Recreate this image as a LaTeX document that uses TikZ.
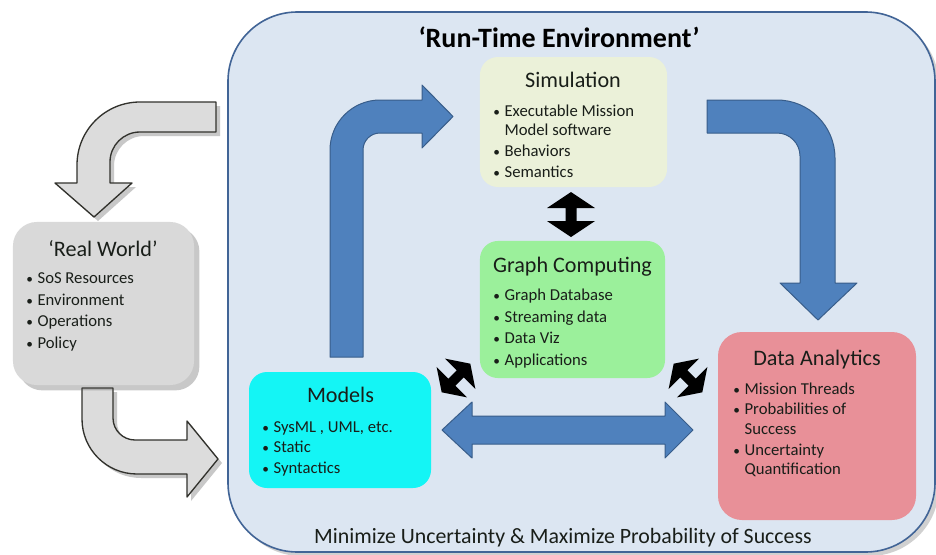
\documentclass[tikz,border=0pt]{standalone}
\usepackage{fontspec}
\setmainfont{Carlito}
\usetikzlibrary{shadows}
\definecolor{envfill}{RGB}{220,230,242}
\definecolor{envdraw}{RGB}{65,100,150}
\definecolor{simfill}{RGB}{235,241,217}
\definecolor{gcfill}{RGB}{155,240,155}
\definecolor{modfill}{RGB}{20,245,245}
\definecolor{dafill}{RGB}{232,144,152}
\definecolor{rwfill}{RGB}{217,217,217}
\definecolor{bluefill}{RGB}{79,129,189}
\definecolor{bluedraw}{RGB}{56,93,138}
\definecolor{grayfill}{RGB}{220,220,220}
\definecolor{graydraw}{RGB}{50,50,45}
\definecolor{txt}{RGB}{25,30,25}
\newcommand{\bu}{\makebox[8.5pt][l]{\scalebox{0.8}{\textbullet}}}
\newcommand{\bitem}[4]{\node[itm] (#1) at (#2,#3) {\bu #4};}
\newcommand{\citem}[4]{\node[itm] (#1) at (#2,#3) {\hspace*{8.5pt}#4};}
\begin{document}
\begin{tikzpicture}[x=0.75pt,y=-0.75pt,
  box/.style={rounded corners=13.5pt, inner sep=0pt, outer sep=0pt},
  ttl/.style={font=\fontsize{16.6}{20}\selectfont, text=txt, anchor=base, inner sep=0pt},
  itm/.style={font=\fontsize{12.5}{15}\selectfont, text=txt, anchor=base west, inner sep=0pt},
  bluearrow/.style={fill=bluefill, draw=bluedraw, line width=0.75pt, line join=round},
  grayarrow/.style={fill=grayfill, draw=graydraw, line width=1pt, line join=round,
     drop shadow={opacity=0.3, shadow xshift=3pt, shadow yshift=-3pt, fill=black!70}},
  blk/.style={fill=black}]
\useasboundingbox (0,0) rectangle (936,554);
\fill[white] (0,0) rectangle (936,554);
% run-time environment
\node[draw=envdraw, fill=envfill, line width=1.2pt, rounded corners=52pt, inner sep=0pt,
  minimum width=530.25pt, minimum height=405pt,
  drop shadow={opacity=0.3, shadow xshift=3pt, shadow yshift=-3pt, fill=black!60}] (env) at (581.5,282) {};
\node[font=\fontsize{21}{24}\selectfont\bfseries, text=black, anchor=base, inner sep=0pt] (envt) at (559,47) {`Run-Time Environment'};
\node[font=\fontsize{16.4}{19}\selectfont, text=txt, anchor=base, inner sep=0pt] (goal) at (563,543) {Minimize Uncertainty \& Maximize Probability of Success};
% gray arrows
\draw[grayarrow] (216,102) -- (140,102) .. controls (105.2,102) and (77,130.2) .. (77,165) -- (77,183) -- (55,183) -- (94,217) -- (132,183) -- (110,183) -- (110,162) .. controls (110,145.4) and (123.4,132) .. (140,132) -- (216,132) -- cycle;
\draw[grayarrow] (82,388) -- (82,419) .. controls (82,449.4) and (106.6,474) .. (137,474) -- (187,474) -- (187,497) -- (218,459) -- (187,421) -- (187,440) -- (135,440) .. controls (122.9,440) and (113,430.1) .. (113,418) -- (113,388) -- cycle;
% real world
\node[box, fill=rwfill, rounded corners=18pt, minimum width=135.8pt, minimum height=122.3pt,
  drop shadow={opacity=0.3, shadow xshift=4pt, shadow yshift=-4pt, fill=black!70}] (rw) at (103.5,303.5) {};
\node[ttl] (rwt) at (103,256) {`Real World'};
\bitem{rw1}{26}{283}{SoS Resources}
\bitem{rw2}{26}{305}{Environment}
\bitem{rw3}{26}{326.5}{Operations}
\bitem{rw4}{26}{348}{Policy}
% blue arrows
\draw[bluearrow] (330,357) -- (330,150) .. controls (330,122.4) and (352.4,100) .. (380,100) -- (422,100) -- (422,85) -- (453,116.5) -- (422,148) -- (422,133) -- (380,133) .. controls (370.6,133) and (363,140.6) .. (363,150) -- (363,357) -- cycle;
\draw[bluearrow] (707,100) -- (777,100) .. controls (809,100) and (835,126) .. (835,158) -- (835,283) -- (857,283) -- (818,320) -- (780,283) -- (800,283) -- (800,156) .. controls (800,143.3) and (789.7,133) .. (777,133) -- (707,133) -- cycle;
\draw[bluearrow] (442,430) -- (472,402) -- (472,416) -- (665,416) -- (665,402) -- (693,430) -- (665,458) -- (665,444) -- (472,444) -- (472,458) -- cycle;
% simulation
\node[box, fill=simfill, minimum width=140.3pt, minimum height=97.5pt] (sim) at (573.5,122) {};
\node[ttl] (simt) at (573,87) {Simulation};
\bitem{s1}{493}{116.5}{Executable Mission}
\citem{s2}{493}{135.5}{Model software}
\bitem{s3}{493}{156.5}{Behaviors}
\bitem{s4}{493}{177.5}{Semantics}
% graph computing
\node[box, fill=gcfill, minimum width=138.8pt, minimum height=102.8pt] (gc) at (572.5,309.5) {};
\node[ttl] (gct) at (572.5,272.5) {Graph Computing};
\bitem{g1}{493}{300.5}{Graph Database}
\bitem{g2}{493}{322}{Streaming data}
\bitem{g3}{493}{343.5}{Data Viz}
\bitem{g4}{493}{365}{Applications}
% models
\node[box, fill=modfill, minimum width=136.5pt, minimum height=87pt] (mod) at (340,430) {};
\node[ttl] (modt) at (340.5,402) {Models};
\bitem{m1}{262}{432.5}{SysML , UML, etc.}
\bitem{m2}{262}{452.5}{Static}
\bitem{m3}{262}{473.5}{Syntactics}
% data analytics
\node[box, fill=dafill, rounded corners=18pt, minimum width=148.5pt, minimum height=141pt] (da) at (817,426) {};
\node[ttl] (dat) at (817,365) {Data Analytics};
\bitem{d1}{733}{394}{Mission Threads}
\bitem{d2}{733}{414.5}{Probabilities of}
\citem{d3}{733}{434}{Success}
\bitem{d4}{733}{455}{Uncertainty}
\citem{d5}{733}{474.5}{Quantification}
% black double arrows
\foreach \nm/\cx/\cy/\rot/\sc in {bv/571/214.5/0/1, bl/456/378/-45/0.9, br/688/378/45/0.9}{
  \begin{scope}[shift={(\cx,\cy)}, rotate=\rot, scale=\sc]
    \fill[blk] (0,-22.5) -- (24,-6.5) -- (5.5,-6.5) -- (5.5,6.5) -- (24,6.5) -- (0,22.5) -- (-24,6.5) -- (-5.5,6.5) -- (-5.5,-6.5) -- (-24,-6.5) -- cycle;
    \coordinate (\nm) at (0,0);
  \end{scope}
}
\end{tikzpicture}
\end{document}
